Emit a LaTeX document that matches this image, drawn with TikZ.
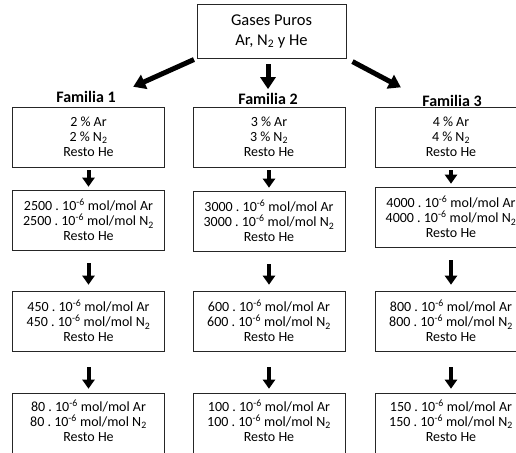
\documentclass[tikz,border=0pt]{standalone}
\usepackage{fontspec}
\setmainfont{Carlito}
\usetikzlibrary{arrows.meta}
\frenchspacing

\tikzset{
  caja/.style={draw=black!85, line width=0.6pt, minimum width=152pt, minimum height=60pt,
    inner sep=0pt, align=center, font=\fontsize{14}{15}\selectfont},
  titulo/.style={font=\bfseries\fontsize{16}{17}\selectfont, inner sep=1pt},
  flecha/.style={-{Triangle[width=12pt,length=9pt]}, line width=4pt},
  flechagr/.style={-{Triangle[width=15pt,length=12pt]}, line width=5pt}
}

\begin{document}
\begin{tikzpicture}[x=1pt,y=-1pt]
  \clip (0,0) rectangle (516,452);

  % Gases puros
  \node[caja, minimum width=149pt, minimum height=54pt, font=\fontsize{16.5}{20}\selectfont]
    (puros) at (271.5,31) {Gases Puros\\Ar, N\textsubscript{2} y He};

  % Familias
  \node[titulo] (fam1) at (86,97) {Familia 1};
  \node[titulo] (fam2) at (268,99) {Familia 2};
  \node[titulo] (fam3) at (452,101) {Familia 3};

  \draw[flechagr, shorten <=3pt, shorten >=18pt] (puros.south west) -- ([yshift=-4pt]fam1.north east);
  \draw[flechagr, shorten <=6pt, shorten >=3pt] (puros.south -| fam2.north) -- (fam2.north);
  \draw[flechagr, shorten <=7pt, shorten >=23pt] (puros.south east) -- ([yshift=-4pt]fam3.north west);

  % Familia 1
  \begin{scope}[shift={(88.5,0)}]
    \node[caja] (f1a) at (0,137) {2 \% Ar\\2 \% N\textsubscript{2}\\Resto He};
    \node[caja] (f1b) at (0,220) {2500 . 10\textsuperscript{-6} mol/mol Ar\\2500 . 10\textsuperscript{-6} mol/mol N\textsubscript{2}\\Resto He};
    \node[caja] (f1c) at (0,321) {450 . 10\textsuperscript{-6} mol/mol Ar\\450 . 10\textsuperscript{-6} mol/mol N\textsubscript{2}\\Resto He};
    \node[caja, minimum height=70pt] (f1d) at (0,428) {80 . 10\textsuperscript{-6} mol/mol Ar\\80 . 10\textsuperscript{-6} mol/mol N\textsubscript{2}\\Resto He\\\mbox{}};
  \end{scope}

  % Familia 2
  \begin{scope}[shift={(269,0)}]
    \node[caja] (f2a) at (0,137) {3 \% Ar\\3 \% N\textsubscript{2}\\Resto He};
    \node[caja] (f2b) at (0,221) {3000 . 10\textsuperscript{-6} mol/mol Ar\\3000 . 10\textsuperscript{-6} mol/mol N\textsubscript{2}\\Resto He};
    \node[caja] (f2c) at (0,321) {600 . 10\textsuperscript{-6} mol/mol Ar\\600 . 10\textsuperscript{-6} mol/mol N\textsubscript{2}\\Resto He};
    \node[caja, minimum height=70pt] (f2d) at (0,428) {100 . 10\textsuperscript{-6} mol/mol Ar\\100 . 10\textsuperscript{-6} mol/mol N\textsubscript{2}\\Resto He\\\mbox{}};
  \end{scope}

  % Familia 3
  \begin{scope}[shift={(451,0)}]
    \node[caja] (f3a) at (0,137) {4 \% Ar\\4 \% N\textsubscript{2}\\Resto He};
    \node[caja] (f3b) at (0,217) {4000 . 10\textsuperscript{-6} mol/mol Ar\\4000 . 10\textsuperscript{-6} mol/mol N\textsubscript{2}\\Resto He};
    \node[caja] (f3c) at (0,321) {800 . 10\textsuperscript{-6} mol/mol Ar\\800 . 10\textsuperscript{-6} mol/mol N\textsubscript{2}\\Resto He};
    \node[caja, minimum height=70pt] (f3d) at (0,428) {150 . 10\textsuperscript{-6} mol/mol Ar\\150 . 10\textsuperscript{-6} mol/mol N\textsubscript{2}\\Resto He\\\mbox{}};
  \end{scope}

  % Flechas entre cajas
  \draw[flecha, shorten <=3pt, shorten >=3pt] (f1a) -- (f1b);
  \draw[flecha, shorten <=13pt, shorten >=6pt] (f1b) -- (f1c);
  \draw[flecha, shorten <=16pt, shorten >=4pt] (f1c) -- (f1d);
  \draw[flecha, shorten <=3pt, shorten >=3pt] (f2a) -- (f2b);
  \draw[flecha, shorten <=13pt, shorten >=6pt] (f2b) -- (f2c);
  \draw[flecha, shorten <=16pt, shorten >=4pt] (f2c) -- (f2d);
  \draw[flecha, shorten <=3pt, shorten >=3pt] (f3a) -- (f3b);
  \draw[flecha, shorten <=13pt, shorten >=6pt] (f3b) -- (f3c);
  \draw[flecha, shorten <=16pt, shorten >=4pt] (f3c) -- (f3d);
\end{tikzpicture}
\end{document}
